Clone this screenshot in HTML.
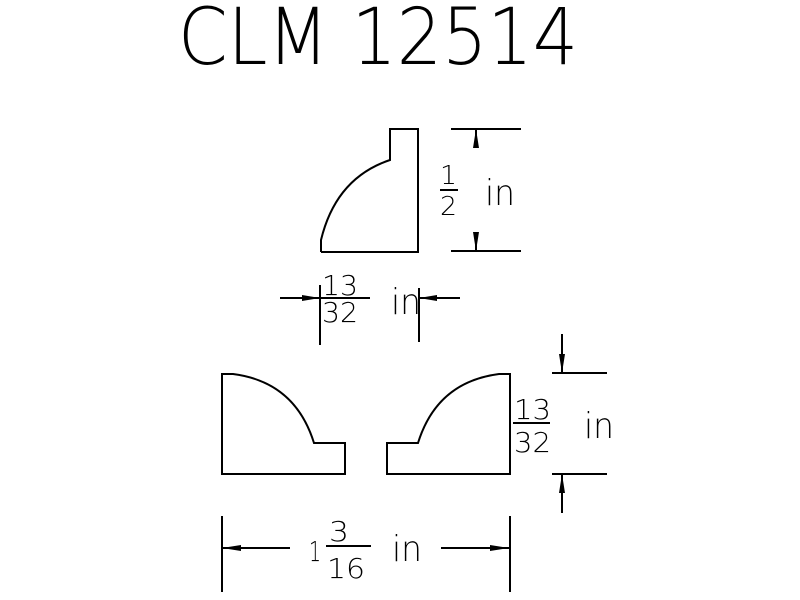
<!DOCTYPE html>
<html><head><style>
html,body{margin:0;padding:0;background:#fff;}
svg{display:block;}
text{font-family:"DejaVu Sans","Liberation Sans",sans-serif;font-weight:200;fill:#000;}
</style></head><body>
<svg width="800" height="600" viewBox="0 0 800 600" xmlns="http://www.w3.org/2000/svg">
<g stroke="#000" stroke-width="2" fill="none">
<!-- top shape -->
<path d="M321,252 L418,252 L418,129 L390,129 L390,160 Q336,178 321,240 L321,252"/>
<!-- right dim for 1/2 -->
<path d="M451,129 H521 M451,251 H521 M476,129 V148 M476,251 V232"/>
<!-- 13/32 dim -->
<path d="M320,285 V345 M419,288 V342 M280,298 H320 M419,298 H460 M320,298 H370"/>
<!-- bottom left shape -->
<path d="M222,474 L222,374 L233,374 Q295,382 314,443 L345,443 L345,474 Z"/>
<!-- bottom right shape -->
<path d="M387,474 L387,443 L418,443 Q437,382 499,374 L510,374 L510,474 Z"/>
<!-- right dim bottom -->
<path d="M552,373 H607 M552,474 H607 M562,334 V373 M562,513 V474 M513,423 H550"/>
<!-- bottom dim -->
<path d="M222,516 V592 M510,516 V592 M222,548 H290 M441,548 H509 M326,546 H371"/>
<!-- 1/2 fraction line -->
<path d="M440,190 H458"/>
</g>
<g fill="#000">
<polygon points="476,129 473,148 479,148"/>
<polygon points="476,251 473,232 479,232"/>
<polygon points="320,298 302,295 302,301"/>
<polygon points="419,298 437,295 437,301"/>
<polygon points="562,373 559,354 565,354"/>
<polygon points="562,474 559,493 565,493"/>
<polygon points="222,548 241,545 241,551"/>
<polygon points="509,548 490,545 490,551"/>
</g>
<text x="178" y="64" font-size="78" textLength="400" lengthAdjust="spacingAndGlyphs">CLM 12514</text>
<text x="440" y="184" font-size="26" textLength="17" lengthAdjust="spacingAndGlyphs">1</text>
<text x="440" y="215" font-size="26" textLength="17" lengthAdjust="spacingAndGlyphs">2</text>
<text x="485" y="205" font-size="36" textLength="30" lengthAdjust="spacingAndGlyphs">in</text>
<text x="322" y="295" font-size="28" textLength="36" lengthAdjust="spacingAndGlyphs">13</text>
<text x="322" y="322" font-size="28" textLength="36" lengthAdjust="spacingAndGlyphs">32</text>
<text x="391" y="314" font-size="36" textLength="30" lengthAdjust="spacingAndGlyphs">in</text>
<text x="514" y="419" font-size="28" textLength="37" lengthAdjust="spacingAndGlyphs">13</text>
<text x="514" y="452" font-size="28" textLength="37" lengthAdjust="spacingAndGlyphs">32</text>
<text x="584" y="438" font-size="36" textLength="30" lengthAdjust="spacingAndGlyphs">in</text>
<text x="309" y="561" font-size="28" textLength="12" lengthAdjust="spacingAndGlyphs">1</text>
<text x="329" y="541" font-size="28" textLength="20" lengthAdjust="spacingAndGlyphs">3</text>
<text x="327" y="578" font-size="28" textLength="38" lengthAdjust="spacingAndGlyphs">16</text>
<text x="392" y="561" font-size="36" textLength="30" lengthAdjust="spacingAndGlyphs">in</text>
</svg>
</body></html>
